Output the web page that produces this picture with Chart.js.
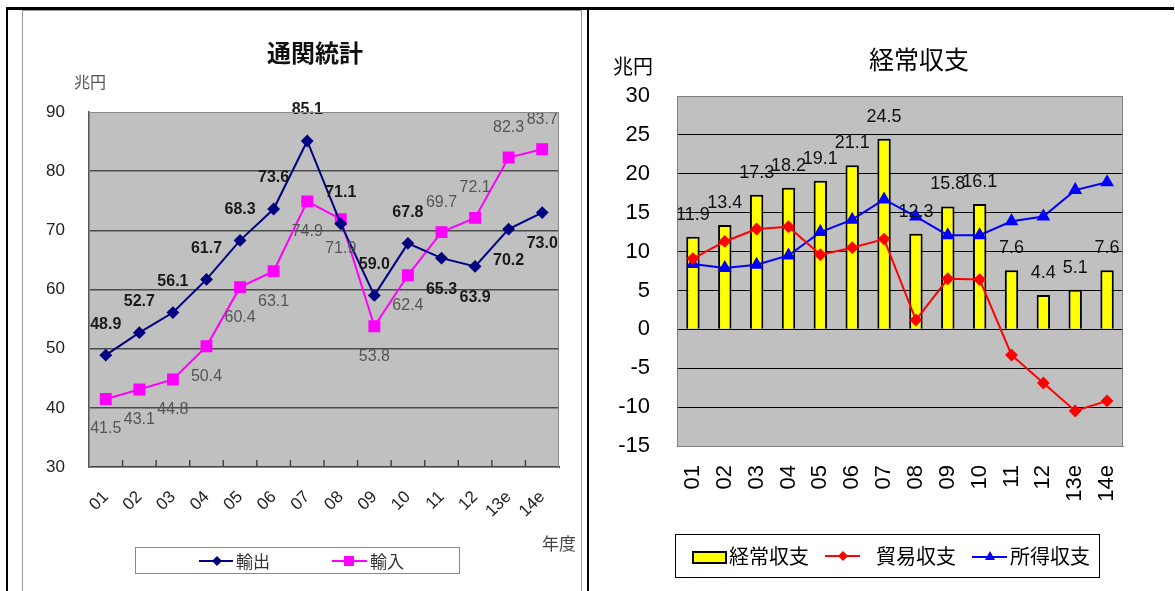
<!DOCTYPE html>
<html>
<head>
<meta charset="utf-8">
<script src="https://cdn.jsdelivr.net/npm/chart.js@4.4.1/dist/chart.umd.min.js"></script>
<style>
  body { margin: 0; width: 1175px; height: 591px; position: relative; background: #fff; overflow: hidden;
         font-family: "Liberation Sans", "Noto Sans CJK JP", sans-serif; }
  .abs { position: absolute; }
  .cjk { font-family: "Noto Sans CJK JP", sans-serif; white-space: nowrap; line-height: 1; }
  canvas { position: absolute; }
  .lg { position: absolute; background: #fff; }
</style>
</head>
<body>

<!-- page frame -->
<div class="abs" style="left:6px;top:7px;width:1168px;height:3px;background:#000"></div>
<div class="abs" style="left:6px;top:7px;width:2px;height:584px;background:#000"></div>
<div class="abs" style="left:587px;top:7px;width:2px;height:584px;background:#000"></div>
<div class="abs" style="left:22px;top:10px;width:558px;height:600px;border:1px solid #999;border-bottom:none"></div>

<canvas id="tradeChart" width="555" height="570" style="left:24px;top:12px"></canvas>
<canvas id="balanceChart" width="578" height="575" style="left:592px;top:10px"></canvas>

<!-- left chart texts -->
<div class="abs cjk" style="left:267px;top:40px;font-size:24px;font-weight:bold;color:#111">通関統計</div>
<div class="abs cjk" style="left:74px;top:73px;font-size:16px;color:#555">兆円</div>
<div class="abs cjk" style="left:542px;top:534px;font-size:17px;color:#444">年度</div>

<div class="lg" style="left:135px;top:547px;width:323px;height:25px;border:1.5px solid #888">
  <svg class="abs" style="left:63px;top:6px" width="36" height="14">
    <line x1="0" y1="7" x2="34" y2="7" stroke="#000080" stroke-width="2"/>
    <polygon points="18,2 23,7 18,12 13,7" fill="#000080"/>
  </svg>
  <div class="abs cjk" style="left:100px;top:4px;font-size:17px;color:#333">輸出</div>
  <svg class="abs" style="left:196px;top:6px" width="36" height="14">
    <line x1="0" y1="7" x2="35" y2="7" stroke="#ff00ff" stroke-width="2"/>
    <rect x="12" y="2" width="10" height="10" fill="#ff00ff"/>
  </svg>
  <div class="abs cjk" style="left:234px;top:4px;font-size:17px;color:#333">輸入</div>
</div>

<!-- right chart texts -->
<div class="abs cjk" style="left:869px;top:46px;font-size:25px;color:#000">経常収支</div>
<div class="abs cjk" style="left:613px;top:56px;font-size:20px;color:#000">兆円</div>

<div class="lg" style="left:675px;top:534px;width:423px;height:42px;border:1px solid #000">
  <div class="abs" style="left:16px;top:16px;width:31px;height:9px;background:#ffff00;border:2px solid #000"></div>
  <div class="abs cjk" style="left:53px;top:11px;font-size:20px;color:#000">経常収支</div>
  <svg class="abs" style="left:149px;top:14px" width="36" height="14">
    <line x1="0" y1="7" x2="35" y2="7" stroke="#ff0000" stroke-width="2"/>
    <polygon points="18,2 23,7 18,12 13,7" fill="#ff0000"/>
  </svg>
  <div class="abs cjk" style="left:200px;top:11px;font-size:20px;color:#000">貿易収支</div>
  <svg class="abs" style="left:296px;top:14px" width="36" height="14">
    <line x1="0" y1="8" x2="35" y2="8" stroke="#0000ff" stroke-width="2"/>
    <polygon points="18,2 23,11 13,11" fill="#0000ff"/>
  </svg>
  <div class="abs cjk" style="left:334px;top:11px;font-size:20px;color:#000">所得収支</div>
</div>

<script>
// fiscal years
const years = ["01", "02", "03", "04", "05", "06", "07", "08", "09", "10", "11", "12", "13e", "14e"];

// 通関統計 (兆円)
const exportValues = [48.9, 52.7, 56.1, 61.7, 68.3, 73.6, 85.1, 71.1, 59.0, 67.8, 65.3, 63.9, 70.2, 73.0];
const importValues = [41.5, 43.1, 44.8, 50.4, 60.4, 63.1, 74.9, 71.9, 53.8, 62.4, 69.7, 72.1, 82.3, 83.7];
const tradeTicks = [30, 40, 50, 60, 70, 80, 90];

// 経常収支 (兆円)
const currentAccount = [11.9, 13.4, 17.3, 18.2, 19.1, 21.1, 24.5, 12.3, 15.8, 16.1, 7.6, 4.4, 5.1, 7.6];
const tradeBalance = [9.1, 11.3, 12.9, 13.2, 9.6, 10.5, 11.6, 1.2, 6.5, 6.4, -3.3, -6.9, -10.5, -9.2];
const incomeBalance = [8.4, 7.9, 8.3, 9.5, 12.5, 14.1, 16.7, 14.5, 12.1, 12.1, 13.9, 14.5, 17.9, 18.9];
const balanceTicks = [-15, -10, -5, 0, 5, 10, 15, 20, 25, 30];

Chart.defaults.font.family = "'Liberation Sans', 'Noto Sans CJK JP', sans-serif";
Chart.defaults.animation = false;

// grey plot background + frame
const plotFrame = {
  id: "plotFrame",
  beforeDraw(chart, args, opts) {
    const { ctx, chartArea: a } = chart;
    ctx.save();
    ctx.fillStyle = opts.fill;
    ctx.fillRect(a.left, a.top, a.right - a.left, a.bottom - a.top);
    ctx.restore();
  },
  afterDraw(chart, args, opts) {
    const { ctx, chartArea: a } = chart;
    ctx.save();
    ctx.strokeStyle = opts.border;
    ctx.lineWidth = 1;
    ctx.strokeRect(a.left + 0.5, a.top + 0.5, a.right - a.left - 1, a.bottom - a.top);
    if (opts.innerTicks) {
      // small category tick marks pointing up from the x axis
      const x = chart.scales.x, n = chart.data.labels.length;
      ctx.strokeStyle = opts.innerTicks;
      ctx.lineWidth = 1.5;
      for (let i = 1; i < n; i++) {
        const px = x.left + i * (x.width / n);
        ctx.beginPath();
        ctx.moveTo(px, a.bottom);
        ctx.lineTo(px, a.bottom - 7);
        ctx.stroke();
      }
    }
    ctx.restore();
  }
};

// numbers next to the marks
const valueLabels = {
  id: "valueLabels",
  afterDatasetsDraw(chart) {
    const ctx = chart.ctx;
    chart.data.datasets.forEach((ds, i) => {
      const lab = ds.valueLabel;
      if (!lab) return;
      const meta = chart.getDatasetMeta(i);
      ctx.save();
      ctx.font = lab.font;
      ctx.fillStyle = lab.color;
      ctx.textAlign = "center";
      ctx.textBaseline = "middle";
      meta.data.forEach((el, j) => {
        const below = lab.below ? lab.below(j) : false;
        const y = below ? el.y + lab.offset : el.y - lab.offset;
        ctx.fillText(ds.data[j].toFixed(1), el.x, y);
      });
      ctx.restore();
    });
  }
};

/* ======================
   通関統計
====================== */
new Chart(document.getElementById("tradeChart"), {
  type: "line",
  data: {
    labels: years,
    datasets: [
      {
        label: "輸出",
        data: exportValues,
        borderColor: "#000080",
        backgroundColor: "#000080",
        borderWidth: 2,
        pointStyle: "rectRot",
        pointRadius: 5,
        tension: 0,
        valueLabel: { font: "bold 16px 'Liberation Sans'", color: "#1a1a1a", offset: 31, below: j => j >= 10 }
      },
      {
        label: "輸入",
        data: importValues,
        borderColor: "#ff00ff",
        backgroundColor: "#ff00ff",
        borderWidth: 2,
        pointStyle: "rect",
        pointRadius: 7,
        tension: 0,
        valueLabel: { font: "16px 'Liberation Sans'", color: "#555", offset: 30, below: j => j < 10 }
      }
    ]
  },
  options: {
    responsive: false,
    devicePixelRatio: 1,
    layout: { padding: { top: 100, right: 20, left: 0, bottom: 55 } },
    plugins: {
      legend: { display: false },
      tooltip: { enabled: false },
      plotFrame: { fill: "#c0c0c0", border: "#8a8a8a", innerTicks: "#444" }
    },
    scales: {
      x: {
        offset: true,
        grid: { drawOnChartArea: false, drawTicks: false },
        border: { display: true, color: "#444", width: 2 },
        ticks: { minRotation: 45, maxRotation: 45, padding: 20, color: "#222", font: { size: 17 } },
        afterFit: s => { s.height = 60; }
      },
      y: {
        min: tradeTicks[0],
        max: tradeTicks[tradeTicks.length - 1],
        ticks: { stepSize: 10, padding: 24, color: "#222", font: { size: 17 } },
        grid: {
          drawTicks: false,
          lineWidth: 1.5,
          color: c => (c.tick && c.tick.value > tradeTicks[0] && c.tick.value < 90) ? "#4a4a4a" : "rgba(0,0,0,0)"
        },
        border: { display: true, color: "#555", width: 1.5 },
        afterFit: s => { s.width = 65; }
      }
    }
  },
  plugins: [plotFrame, valueLabels]
});

/* ======================
   経常収支
====================== */
new Chart(document.getElementById("balanceChart"), {
  type: "bar",
  data: {
    labels: years,
    datasets: [
      {
        type: "line",
        label: "貿易収支",
        data: tradeBalance,
        borderColor: "#ff0000",
        backgroundColor: "#ff0000",
        borderWidth: 2,
        pointStyle: "rectRot",
        pointRadius: 5,
        tension: 0,
        order: 1
      },
      {
        type: "line",
        label: "所得収支",
        data: incomeBalance,
        borderColor: "#0000ff",
        backgroundColor: "#0000ff",
        borderWidth: 2,
        pointStyle: "triangle",
        pointRadius: 6,
        tension: 0,
        order: 1
      },
      {
        type: "bar",
        label: "経常収支",
        data: currentAccount,
        backgroundColor: "#ffff00",
        borderColor: "#000",
        borderWidth: 2,
        barPercentage: 0.42,
        categoryPercentage: 1,
        order: 2,
        valueLabel: { font: "18px 'Liberation Sans'", color: "#111", offset: 22 }
      }
    ]
  },
  options: {
    responsive: false,
    devicePixelRatio: 1,
    layout: { padding: { top: 86, right: 47, left: 0, bottom: 69 } },
    plugins: {
      legend: { display: false },
      tooltip: { enabled: false },
      plotFrame: { fill: "#c0c0c0", border: "#808080" }
    },
    scales: {
      x: {
        grid: { drawOnChartArea: false, drawTicks: false },
        border: { display: true, color: "#808080", width: 1 },
        ticks: { minRotation: 90, maxRotation: 90, padding: 19, color: "#000", font: { size: 22 } },
        afterFit: s => { s.height = 70; }
      },
      y: {
        min: balanceTicks[0],
        max: balanceTicks[balanceTicks.length - 1],
        ticks: { stepSize: 5, padding: 27, color: "#000", font: { size: 22 } },
        grid: {
          drawTicks: false,
          lineWidth: 1,
          color: c => (c.tick && c.tick.value > balanceTicks[0] && c.tick.value < 30) ? "#000" : "rgba(0,0,0,0)"
        },
        border: { display: true, color: "#808080", width: 1 },
        afterFit: s => { s.width = 85; }
      }
    }
  },
  plugins: [plotFrame, valueLabels]
});
</script>
</body>
</html>
